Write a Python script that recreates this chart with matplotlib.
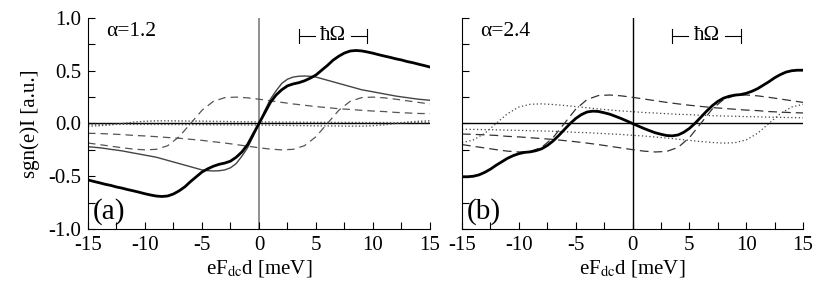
import matplotlib
matplotlib.use("Agg")
import matplotlib.pyplot as plt
from matplotlib.ticker import MultipleLocator, FormatStrFormatter

plt.rcParams["font.family"] = ["Liberation Serif", "DejaVu Serif"]
plt.rcParams["mathtext.fontset"] = "stix"
plt.rcParams["axes.unicode_minus"] = False

# eF_dc d [meV]: side bands every 1 meV, the main curves every 0.5 meV
X = list(range(-15, 16))
X_FINE = [i / 2 for i in range(-30, 31)]

# panel (a), alpha = 1.2 -- main curves are odd in x, only x >= 0 listed
THICK_A_POS = [0, 0.10, 0.20, 0.27, 0.32, 0.357, 0.375, 0.387, 0.405, 0.43,
               0.46, 0.505, 0.55, 0.60, 0.638, 0.668, 0.687, 0.692, 0.688, 0.678,
               0.666, 0.652, 0.639, 0.627, 0.613, 0.602, 0.587, 0.576, 0.562,
               0.549, 0.535]
THIN_A_POS = [0, 0.12, 0.23, 0.31, 0.38, 0.42, 0.44, 0.448, 0.45, 0.447,
              0.44, 0.425, 0.41, 0.395, 0.38, 0.365, 0.35, 0.335, 0.32, 0.31,
              0.30, 0.29, 0.28, 0.27, 0.26, 0.252, 0.245, 0.237, 0.23, 0.225,
              0.22]
# side band centred at +hbar*Omega (full range -15..15)
DASH_A = [-0.093, -0.095, -0.10, -0.105, -0.113, -0.118, -0.125, -0.133, -0.14,
          -0.15, -0.16, -0.173, -0.185, -0.20, -0.215, -0.23, -0.243, -0.25,
          -0.245, -0.21, -0.125, 0, 0.125, 0.21, 0.245, 0.25, 0.243, 0.23,
          0.215, 0.20, 0.185]
# side band centred at +2 hbar*Omega
DOT_A = [-0.007, -0.008, -0.008, -0.008, -0.009, -0.009, -0.009, -0.010, -0.010,
         -0.011, -0.011, -0.012, -0.013, -0.013, -0.014, -0.015, -0.016, -0.017,
         -0.019, -0.020, -0.022, -0.023, -0.024, -0.025, -0.025, -0.021, -0.013,
         0, 0.013, 0.021, 0.025]

# panel (b), alpha = 2.4
THICK_B_POS = [0, -0.024, -0.047, -0.068, -0.088, -0.102, -0.114, -0.117,
               -0.109, -0.084, -0.047, 0.002, 0.058, 0.115, 0.167, 0.209, 0.24,
               0.258, 0.269, 0.274, 0.286, 0.305, 0.33, 0.363, 0.396, 0.433,
               0.463, 0.487, 0.50, 0.505, 0.505]
DASH_B = [-0.100, -0.103, -0.108, -0.113, -0.122, -0.127, -0.135, -0.143, -0.151,
          -0.162, -0.173, -0.186, -0.200, -0.216, -0.232, -0.248, -0.262, -0.270,
          -0.265, -0.227, -0.135, 0, 0.135, 0.227, 0.265, 0.270, 0.262, 0.248,
          0.232, 0.216, 0.200]
DOT_B = [-0.054, -0.056, -0.058, -0.060, -0.063, -0.065, -0.069, -0.071, -0.074,
         -0.078, -0.084, -0.087, -0.093, -0.099, -0.104, -0.112, -0.119, -0.128,
         -0.138, -0.149, -0.160, -0.171, -0.180, -0.186, -0.182, -0.156, -0.093,
         0, 0.093, 0.156, 0.182]

HBAR_OMEGA = (3.5, 9.5)


def odd(pos):
    # rebuild the full curve from the x >= 0 half
    return [-v for v in pos[:0:-1]] + list(pos)


def mirror(vals):
    # band centred at -n*hbar*Omega is the odd mirror of the +n one
    return [-v for v in vals[::-1]]


def style_axes(ax, labels=True):
    ax.set_xlim(-15, 15)
    ax.set_ylim(-1, 1)
    for s in ("top", "right"):
        ax.spines[s].set_visible(False)
    ax.xaxis.set_major_locator(MultipleLocator(5))
    ax.xaxis.set_minor_locator(MultipleLocator(2.5))
    ax.yaxis.set_major_locator(MultipleLocator(0.5))
    ax.yaxis.set_minor_locator(MultipleLocator(0.25))
    ax.yaxis.set_major_formatter(FormatStrFormatter("%.1f"))
    ax.tick_params(which="both", direction="in", length=5, width=0.8,
                   top=False, right=False, labelsize=15, pad=5)
    if not labels:
        ax.tick_params(axis="y", labelleft=False)
    ax.set_xlabel(r"eF$_{\mathrm{dc}}$d [meV]", fontsize=15, labelpad=2)


def hbar_bracket(ax):
    x0, x1 = HBAR_OMEGA
    y = 0.83
    xm = (x0 + x1) / 2
    ax.plot([x0, xm - 1.6], [y, y], color="k", lw=0.8)
    ax.plot([xm + 1.6, x1], [y, y], color="k", lw=0.8)
    ax.plot([x0, x0], [y - 0.07, y + 0.07], color="k", lw=0.8)
    ax.plot([x1, x1], [y - 0.07, y + 0.07], color="k", lw=0.8)
    ax.text(xm, y, "ħΩ", ha="center", va="center", fontsize=15)


fig = plt.figure(figsize=(8.17, 2.92), dpi=100)
ax_a = fig.add_axes([0.1077, 0.2158, 0.4186, 0.7226])
ax_b = fig.add_axes([0.5655, 0.2158, 0.4174, 0.7226])

# (a)
ax_a.axvline(0, color="#888888", lw=1.3, zorder=1)
ax_a.axhline(0, color="k", lw=1.0, zorder=1)
ax_a.plot(X, DOT_A, color="#555555", lw=1.0, ls=(0, (1, 1.5)))
ax_a.plot(X, mirror(DOT_A), color="#555555", lw=1.0, ls=(0, (1, 1.5)))
ax_a.plot(X, DASH_A, color="#555555", lw=0.9, ls=(0, (6, 4)))
ax_a.plot(X, mirror(DASH_A), color="#555555", lw=0.9, ls=(0, (6, 4)))
ax_a.plot(X_FINE, odd(THIN_A_POS), color="#444444", lw=1.0)
ax_a.plot(X_FINE, odd(THICK_A_POS), color="k", lw=2.0)
ax_a.text(-13.4, 0.87, "α=1.2", fontsize=15.5, va="center")
ax_a.text(-14.6, -0.83, "(a)", fontsize=21, va="center")
hbar_bracket(ax_a)
style_axes(ax_a)
ax_a.set_ylabel("sgn(e)I [a.u.]", fontsize=15, labelpad=6)

# (b)
ax_b.axvline(0, color="k", lw=1.0, zorder=1)
ax_b.axhline(0, color="k", lw=1.0, zorder=1)
ax_b.plot(X, DOT_B, color="#444444", lw=0.9, ls=(0, (1, 2)))
ax_b.plot(X, mirror(DOT_B), color="#444444", lw=0.9, ls=(0, (1, 2)))
ax_b.plot(X, DASH_B, color="#333333", lw=0.9, ls=(0, (7, 4)))
ax_b.plot(X, mirror(DASH_B), color="#333333", lw=0.9, ls=(0, (7, 4)))
ax_b.plot(X_FINE, odd(THICK_B_POS), color="k", lw=2.0)
ax_b.text(-13.4, 0.87, "α=2.4", fontsize=15.5, va="center")
ax_b.text(-14.6, -0.83, "(b)", fontsize=21, va="center")
hbar_bracket(ax_b)
style_axes(ax_b, labels=False)

fig.savefig("out.png", dpi=100)
